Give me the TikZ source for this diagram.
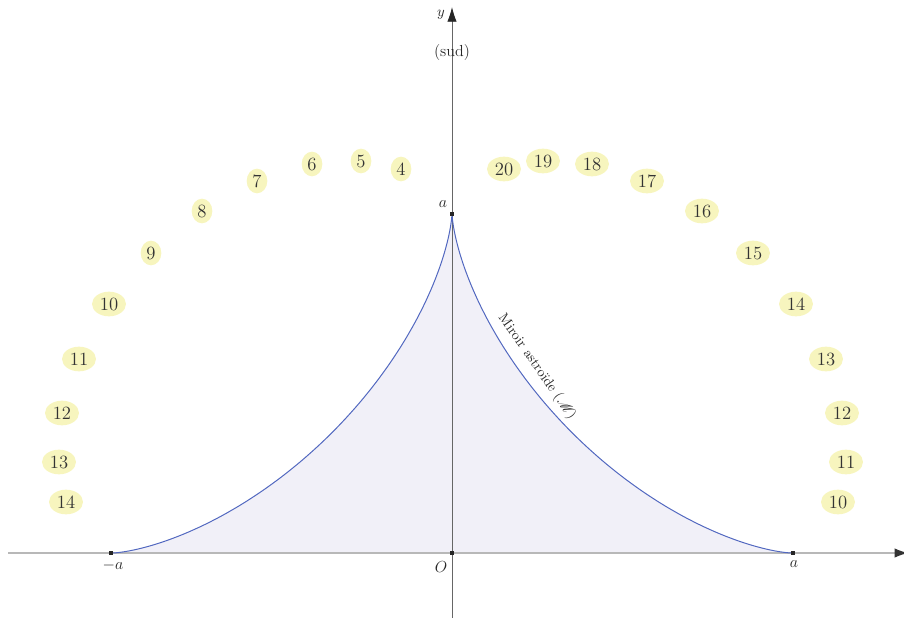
\documentclass[tikz,border=0pt]{standalone}
\usepackage{mathrsfs}
\usetikzlibrary{shapes.geometric,arrows.meta}
\definecolor{lblyellow}{RGB}{247,245,190}
\definecolor{mirrorblue}{RGB}{82,104,192}
\definecolor{fillviolet}{RGB}{241,240,248}
\tikzset{
  lbl/.style={ellipse, fill=lblyellow, inner sep=0pt, minimum width=15.5pt, minimum height=18.5pt, font=\fontsize{14}{16}\selectfont, text=black!80},
  lblw/.style={lbl, minimum width=25.5pt},
  pt/.style={rectangle, fill=black!85, inner sep=0pt, minimum size=3pt},
  mlabel/.style={font=\fontsize{13}{15}\selectfont, text=black!85}
}
\begin{document}
\begin{tikzpicture}[x=0.75pt,y=-0.75pt]
\useasboundingbox (0,0) rectangle (904,618);
% filled astroid region
\fill[fillviolet] plot[domain=0:180,samples=241] ({452+340*cos(\x)*cos(\x)*cos(\x)},{553-340*sin(\x)*sin(\x)*sin(\x)}) -- cycle;
% axes
\coordinate (xs) at (8,553);
\coordinate (xe) at (908,553);
\coordinate (ys) at (452,622);
\coordinate (ye) at (452,7);
\draw[black!28, line width=0.8pt, -{Latex[length=10pt,width=7pt,color=black!80]}] (xs) -- (xe);
\draw[black!60, line width=0.6pt, -{Latex[length=11pt,width=7pt,color=black!85]}] (ys) -- (ye);
% astroid curve
\draw[mirrorblue, line width=0.75pt] plot[domain=0:180,samples=241] ({452+340*cos(\x)*cos(\x)*cos(\x)},{553-340*sin(\x)*sin(\x)*sin(\x)});
% points
\node[pt] (O) at (452,553) {};
\node[pt] (A) at (793,553) {};
\node[pt] (Am) at (111,553) {};
\node[pt] (B) at (452,214) {};
% labels
\node[mlabel] (lO) at (441,567) {$O$};
\node[mlabel] (lA) at (794,564) {$a$};
\node[mlabel] (lAm) at (113,565) {$-a$};
\node[mlabel] (lB) at (443,204) {$a$};
\node[mlabel, font=\fontsize{10.5}{12}\selectfont] (ly) at (441,15) {$y$};
\node[mlabel, font=\fontsize{10.5}{12}\selectfont] (lx) at (908,566) {$x$};
\node[mlabel, font=\fontsize{12}{14}\selectfont] (sud) at (452,53) {(sud)};
\node[font=\fontsize{10.5}{12}\selectfont, text=black!85, rotate=-55] (mir) at (537,367) {Miroir astroïde ($\mathscr{M}$)};
% hour labels left
\node[lbl] (l4) at (401,169) {4};
\node[lbl] (l5) at (361,161) {5};
\node[lbl] (l6) at (312,164) {6};
\node[lbl] (l7) at (257,181) {7};
\node[lbl] (l8) at (202,211) {8};
\node[lbl] (l9) at (151,253) {9};
\node[lblw] (l10) at (109,304) {10};
\node[lblw] (l11) at (79,359) {11};
\node[lblw] (l12) at (62,413) {12};
\node[lblw] (l13) at (59,462) {13};
\node[lblw] (l14) at (66,502) {14};
% hour labels right
\node[lblw] (r20) at (504,169) {20};
\node[lblw] (r19) at (543,161) {19};
\node[lblw] (r18) at (592,164) {18};
\node[lblw] (r17) at (647,181) {17};
\node[lblw] (r16) at (702,211) {16};
\node[lblw] (r15) at (753,253) {15};
\node[lblw] (r14) at (796,304) {14};
\node[lblw] (r13) at (826,359) {13};
\node[lblw] (r12) at (842,413) {12};
\node[lblw] (r11) at (846,462) {11};
\node[lblw] (r10) at (838,502) {10};
\end{tikzpicture}
\end{document}
